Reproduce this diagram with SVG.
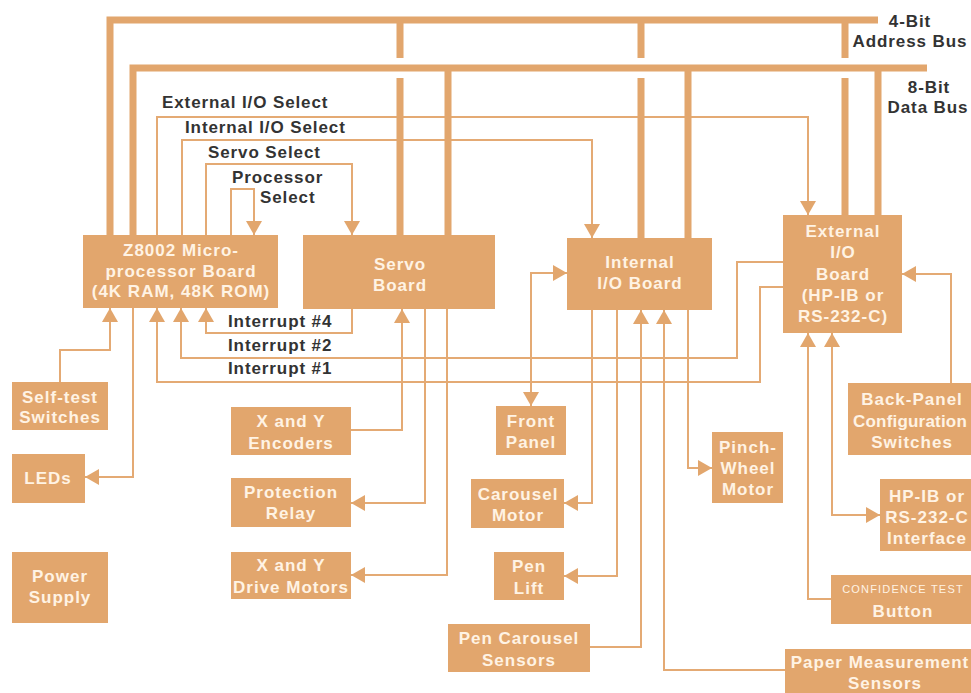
<svg xmlns="http://www.w3.org/2000/svg" width="971" height="693" viewBox="0 0 971 693">
<style>
.box{fill:#E2A66D}
.bt{font-family:"Liberation Sans",Arial,sans-serif;font-weight:bold;font-size:17px;fill:#FFF3E4;text-anchor:middle;letter-spacing:1px}
.sm{font-size:11px;font-weight:normal;letter-spacing:1.2px}
.lb{font-family:"Liberation Sans",Arial,sans-serif;font-weight:bold;font-size:17px;fill:#333333;letter-spacing:0.9px}
.mid{text-anchor:middle}
.bus{fill:none;stroke:#E2A66D;stroke-width:7;stroke-linejoin:miter}
.ln{fill:none;stroke:#E4AA74;stroke-width:2;marker-end:url(#ah)}
.ln2{fill:none;stroke:#E4AA74;stroke-width:2;marker-end:url(#ah);marker-start:url(#ah)}
</style>
<defs>
<marker id="ah" viewBox="0 0 14 16" refX="14" refY="8" markerWidth="14" markerHeight="16" markerUnits="userSpaceOnUse" orient="auto-start-reverse">
<path d="M0,0 L14,8 L0,16 z" fill="#E2A66D"/>
</marker>
</defs>
<rect width="971" height="693" fill="#FFFFFF"/>

<g id="connectors">
<path class="ln" d="M157,235 V117 H808 V215"/>
<path class="ln" d="M182,235 V140 H592 V238"/>
<path class="ln" d="M206,235 V164 H352 V235"/>
<path class="ln" d="M231,235 V189 H254 V235"/>
<path class="ln" d="M352,309 V333 H206 V308"/>
<path class="ln" d="M783,262 H737 V358 H181 V308"/>
<path class="ln" d="M783,287 H760 V382 H157 V308"/>
<path class="ln" d="M60,382 V350 H110 V308"/>
<path class="ln" d="M133,308 V477 H85"/>
<path class="ln" d="M351,430 H402 V309"/>
<path class="ln" d="M425,309 V503 H351"/>
<path class="ln" d="M447,309 V575 H351"/>
<path class="ln2" d="M567,273 H531 V406"/>
<path class="ln" d="M592,310 V503 H564"/>
<path class="ln" d="M617,310 V576 H564"/>
<path class="ln" d="M590,647 H641 V310"/>
<path class="ln" d="M785,670 H664 V310"/>
<path class="ln" d="M688,310 V468 H712"/>
<path class="ln" d="M951,383 V274 H902"/>
<path class="ln" d="M831,599 H808 V333"/>
<path class="ln2" d="M880,515 H832 V333"/>
<path class="bus" d="M110,235 V20 H878"/>
<path class="bus" d="M400,20 V58 M400,78 V235 M641,20 V58 M641,78 V238 M845,20 V58 M845,78 V215"/>
<path class="bus" d="M133,235 V68 H927"/>
<path class="bus" d="M448,68 V235 M688,68 V238 M878,68 V215"/>
</g>

<g id="labels">
<text class="lb mid" x="910" y="27">4-Bit</text>
<text class="lb mid" x="910" y="47">Address Bus</text>
<text class="lb mid" x="929" y="93">8-Bit</text>
<text class="lb mid" x="928" y="113">Data Bus</text>
<text class="lb" x="162" y="108">External I/O Select</text>
<text class="lb" x="185" y="133">Internal I/O Select</text>
<text class="lb" x="208" y="158">Servo Select</text>
<text class="lb" x="232" y="183">Processor</text>
<text class="lb" x="260" y="203">Select</text>
<text class="lb" x="228" y="327">Interrupt #4</text>
<text class="lb" x="228" y="351">Interrupt #2</text>
<text class="lb" x="228" y="374">Interrupt #1</text>
</g>

<g id="z8002">
<rect class="box" x="83" y="235" width="195" height="73"/>
<text class="bt" x="181" y="256">Z8002 Micro-</text>
<text class="bt" x="181" y="277">processor Board</text>
<text class="bt" x="181" y="297">(4K RAM, 48K ROM)</text>
</g>
<g id="servo">
<rect class="box" x="303" y="235" width="192" height="74"/>
<text class="bt" x="400" y="270">Servo</text>
<text class="bt" x="400" y="291">Board</text>
</g>
<g id="internal-io">
<rect class="box" x="567" y="238" width="145" height="72"/>
<text class="bt" x="640" y="268">Internal</text>
<text class="bt" x="640" y="289">I/O Board</text>
</g>
<g id="external-io">
<rect class="box" x="783" y="215" width="119" height="118"/>
<text class="bt" x="843" y="237">External</text>
<text class="bt" x="843" y="258">I/O</text>
<text class="bt" x="843" y="280">Board</text>
<text class="bt" x="843" y="301">(HP-IB or</text>
<text class="bt" x="843" y="322">RS-232-C)</text>
</g>
<g id="self-test">
<rect class="box" x="12" y="382" width="96" height="48"/>
<text class="bt" x="60" y="403">Self-test</text>
<text class="bt" x="60" y="423">Switches</text>
</g>
<g id="leds">
<rect class="box" x="12" y="454" width="73" height="49"/>
<text class="bt" x="48" y="484">LEDs</text>
</g>
<g id="power-supply">
<rect class="box" x="12" y="552" width="96" height="71"/>
<text class="bt" x="60" y="582">Power</text>
<text class="bt" x="60" y="603">Supply</text>
</g>
<g id="encoders">
<rect class="box" x="231" y="407" width="120" height="48"/>
<text class="bt" x="291" y="427">X and Y</text>
<text class="bt" x="291" y="449">Encoders</text>
</g>
<g id="protection-relay">
<rect class="box" x="231" y="478" width="120" height="49"/>
<text class="bt" x="291" y="498">Protection</text>
<text class="bt" x="291" y="519">Relay</text>
</g>
<g id="drive-motors">
<rect class="box" x="231" y="552" width="120" height="47"/>
<text class="bt" x="291" y="571">X and Y</text>
<text class="bt" x="291" y="593">Drive Motors</text>
</g>
<g id="front-panel">
<rect class="box" x="496" y="406" width="70" height="49"/>
<text class="bt" x="531" y="427">Front</text>
<text class="bt" x="531" y="448">Panel</text>
</g>
<g id="carousel-motor">
<rect class="box" x="471" y="479" width="93" height="49"/>
<text class="bt" x="518" y="500">Carousel</text>
<text class="bt" x="518" y="521">Motor</text>
</g>
<g id="pen-lift">
<rect class="box" x="494" y="552" width="70" height="48"/>
<text class="bt" x="529" y="572">Pen</text>
<text class="bt" x="529" y="594">Lift</text>
</g>
<g id="pen-carousel-sensors">
<rect class="box" x="448" y="624" width="142" height="48"/>
<text class="bt" x="519" y="644">Pen Carousel</text>
<text class="bt" x="519" y="666">Sensors</text>
</g>
<g id="pinch-wheel">
<rect class="box" x="712" y="432" width="71" height="71"/>
<text class="bt" x="748" y="453">Pinch-</text>
<text class="bt" x="748" y="474">Wheel</text>
<text class="bt" x="748" y="495">Motor</text>
</g>
<g id="back-panel">
<rect class="box" x="848" y="383" width="130" height="72"/>
<text class="bt" x="912" y="405">Back-Panel</text>
<text class="bt" x="910" y="427" style="letter-spacing:0.2px">Configuration</text>
<text class="bt" x="912" y="448">Switches</text>
</g>
<g id="interface">
<rect class="box" x="880" y="479" width="95" height="72"/>
<text class="bt" x="927" y="502">HP-IB or</text>
<text class="bt" x="927" y="523">RS-232-C</text>
<text class="bt" x="927" y="544">Interface</text>
</g>
<g id="confidence-test">
<rect class="box" x="831" y="575" width="144" height="49"/>
<text class="bt sm" x="903" y="593">CONFIDENCE TEST</text>
<text class="bt" x="903" y="617">Button</text>
</g>
<g id="paper-sensors">
<rect class="box" x="785" y="649" width="190" height="50"/>
<text class="bt" x="880" y="668">Paper Measurement</text>
<text class="bt" x="885" y="689">Sensors</text>
</g>
</svg>
